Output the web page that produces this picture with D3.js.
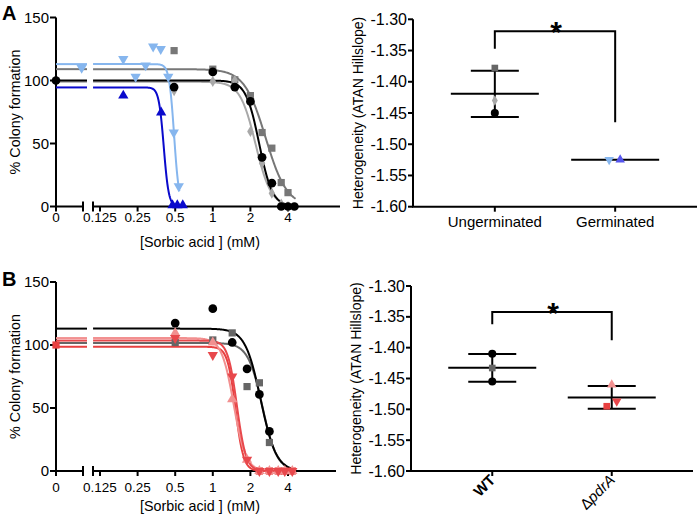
<!DOCTYPE html>
<html><head><meta charset="utf-8">
<script src="https://cdn.jsdelivr.net/npm/d3@7"></script>
<style>body{margin:0;background:#fff}svg{display:block}</style>
</head><body><svg id="c" width="700" height="516"></svg>
<script>
// ---------------- DATA ----------------
const doseTicks = [0.125, 0.25, 0.5, 1, 2, 4];
const doseTickLabels = ["0.125", "0.25", "0.5", "1", "2", "4"];
const doseYTicks = [0, 50, 100, 150];

// Panel A, dose response (% colony formation)
const aDoseUng = [0, 0.49, 1, 1.5, 2, 2.48, 2.97, 3.53, 4, 4.5];
const aUngCircle = [100, 94.8, 106.8, 94.8, 83.4, 39, 18.5, 0, 0, 0];
const aUngSquare = [null, 123.7, 109, 100.6, 88, 58.7, 46.3, 19, 11, null];
const aUngDiamond = [null, 92, 99.3, 100, 59.5, 34.4, 10.5, 2, 0, null];
const aDoseGermLight = [0.095, 0.192, 0.241, 0.29, 0.333, 0.383, 0.44, 0.487, 0.534];
const aGermLight = [110, 117, 103, 112, 127, 125, 103, 58.7, 16];
const aDoseGermDark = [0.192, 0.386, 0.476, 0.52, 0.575];
const aGermDark = [88, 74.6, 1, 1, 1];
// fitted curves (circle, square, diamond, light-blue, blue)
const aFitTop = [100, 109, 99, 113, 94.5];
const aFitIC50 = [2.35, 2.65, 2.2, 0.49, 0.405];
const aFitHill = [8.2, 5.1, 7.0, 21.8, 21.8];
const aFitEnd = [4.6, 4.6, 4.6, 0.54, 0.6];

// Panel B, dose response
const bDose = [0, 0.5, 1, 1.43, 1.88, 2.36, 2.84, 3.34, 3.77, 4.33];
const bWTCircle = [null, 117.4, 128.8, 102, 81, 60.8, 31.4, null, null, null];
const bWTSquare = [null, 102, 104, 109.6, 67, 70, 22.6, null, null, null];
const bPdrUp = [null, 109.6, 102, 57, 9, 0, 0, 0, 0, 0];
const bPdrDown = [null, 105.6, 92, 75, 9, 0, 0, 0, 0, 0];
const bPdrSquare = [100, null, null, null, null, 0, 0, 0, 0, 0];
// fitted curves (WT circle, WT square, pdrA up, pdrA down, pdrA square)
const bFitTop = [113, 101.6, 105.5, 103.5, 98.6];
const bFitIC50 = [2.42, 2.5, 1.47, 1.56, 1.52];
const bFitHill = [7.0, 7.5, 9.0, 11.9, 13.5];
const bFitEnd = [4.4, 4.4, 4.4, 4.4, 4.4];

// Heterogeneity (ATAN Hillslope)
const hetYTicks = [-1.30, -1.35, -1.40, -1.45, -1.50, -1.55, -1.60];
const hetCategoriesA = ["Ungerminated", "Germinated"];
const hetA_Ung = [-1.45, -1.378, -1.43];   // circle, square, diamond
const hetA_Germ = [-1.525, -1.525];        // light-blue down, blue up
const hetCategoriesB = ["WT", "ΔpdrA"];
const hetB_WT = [-1.41, -1.455, -1.433];   // circle, circle, square
const hetB_Pdr = [-1.46, -1.487, -1.495];  // up, down, square
const sigA = [-1.347, -1.319, -1.465];     // bracket: left end, top, right end
const sigB = [-1.362, -1.342, -1.388];

// ---------------- DRAWING ----------------
const FONT = "'Liberation Sans', Arial, Helvetica, sans-serif";
const svg = d3.select("#c").attr("font-family", FONT);
const C = {
  black: "#000", grey: "#777", lgrey: "#a8a8a8", lblue: "#86b6ee", blue: "#0a0acc",
  dgrey: "#666", pink: "#f29090", red: "#e8484c", red2: "#e84040", hetBlue: "#5555ee"
};

function marker(g, kind, x, y, color, scale) {
  scale = scale || 1;
  const t = {circle: [d3.symbolCircle, 60], square: [d3.symbolSquare, 52], diamond: [d3.symbolDiamond, 36],
    up: [d3.symbolTriangle, 46], down: [d3.symbolTriangle, 46]}[kind];
  g.append("path").attr("d", d3.symbol(t[0], t[1] * scale)())
    .attr("transform", `translate(${x},${y})${kind === "down" ? " rotate(180)" : ""}`)
    .attr("fill", color);
}

function doseChart(cfg) {
  const g = svg.append("g");
  const y = d3.scaleLinear().domain([0, 150]).range([cfg.y0, cfg.y0 - 189]);
  const xz = d3.scaleLinear().domain([0, 0.1]).range([56, 83]);
  const xl = d3.scaleLog().base(2).domain([0.125, 4]).range([100, 288]);
  const X = c => c < 0.105 ? xz(c) : xl(c);
  const y0 = cfg.y0;

  // axes
  g.append("line").attr("x1", 56).attr("x2", 56).attr("y1", y(0)).attr("y2", y(150)).attr("stroke", "#000").attr("stroke-width", 2);
  doseYTicks.forEach(v => {
    g.append("line").attr("x1", 50).attr("x2", 56).attr("y1", y(v)).attr("y2", y(v)).attr("stroke", "#000").attr("stroke-width", 2);
    g.append("text").attr("x", 49).attr("y", y(v)).attr("dy", "0.35em").attr("text-anchor", "end")
      .attr("font-size", 15).text(v);
  });
  g.append("line").attr("x1", 55).attr("x2", 83).attr("y1", y0).attr("y2", y0).attr("stroke", "#000").attr("stroke-width", 2);
  g.append("line").attr("x1", 93).attr("x2", cfg.xEnd).attr("y1", y0).attr("y2", y0).attr("stroke", "#000").attr("stroke-width", 2);
  [83, 93].forEach(bx => g.append("line").attr("x1", bx).attr("x2", bx).attr("y1", y0 - 5).attr("y2", y0 + 5)
    .attr("stroke", "#000").attr("stroke-width", 2));
  g.append("line").attr("x1", 56).attr("x2", 56).attr("y1", y0).attr("y2", y0 + 5).attr("stroke", "#000").attr("stroke-width", 2);
  g.append("text").attr("x", X(0)).attr("y", y0 + cfg.lab).attr("text-anchor", "middle").attr("font-size", 13.5).text("0");
  doseTicks.forEach((d, i) => {
    g.append("line").attr("x1", xl(d)).attr("x2", xl(d)).attr("y1", y0).attr("y2", y0 + 5).attr("stroke", "#000").attr("stroke-width", 2);
    g.append("text").attr("x", xl(d)).attr("y", y0 + cfg.lab).attr("text-anchor", "middle").attr("font-size", 13.5).text(doseTickLabels[i]);
  });
  g.append("text").attr("x", 200).attr("y", y0 + 40).attr("text-anchor", "middle").attr("font-size", 14.3).text("[Sorbic acid ] (mM)");
  g.append("text").attr("transform", `translate(20,${y(75)}) rotate(-90)`).attr("text-anchor", "middle")
    .attr("font-size", 14.3).text("% Colony formation");

  // curves
  cfg.series.forEach(s => {
    const f = c => s.top / (1 + Math.pow(c / s.ic50, s.hill));
    g.append("line").attr("x1", X(0)).attr("x2", 87).attr("y1", y(s.top)).attr("y2", y(s.top))
      .attr("stroke", s.line).attr("stroke-width", 2);
    const cs = d3.range(301).map(i => 0.11 * Math.pow(s.end / 0.11, i / 300));
    g.append("path").datum(cs).attr("fill", "none").attr("stroke", s.line).attr("stroke-width", 2)
      .attr("d", d3.line().x(c => xl(c)).y(c => y(f(c))));
  });
  // points
  cfg.series.forEach(s => {
    s.dose.forEach((d, i) => {
      const v = s.vals[i];
      if (v == null) return;
      marker(g, s.kind, X(d), y(v), s.color);
    });
  });
}

doseChart({
  y0: 206.5, lab: 15.5, xEnd: 340,
  series: [
    {dose: aDoseUng, vals: aUngSquare, kind: "square", color: C.grey, line: C.grey},
    {dose: aDoseUng, vals: aUngDiamond, kind: "diamond", color: C.lgrey, line: C.lgrey},
    {dose: aDoseGermLight, vals: aGermLight, kind: "down", color: C.lblue, line: C.lblue},
    {dose: aDoseGermDark, vals: aGermDark, kind: "up", color: C.blue, line: C.blue},
    {dose: aDoseUng, vals: aUngCircle, kind: "circle", color: C.black, line: C.black}
  ].map((s, k) => {
    const idx = [1, 2, 3, 4, 0][k];
    return Object.assign(s, {top: aFitTop[idx], ic50: aFitIC50[idx], hill: aFitHill[idx], end: aFitEnd[idx]});
  })
});

doseChart({
  y0: 471, lab: 21, xEnd: 336,
  series: [
    {dose: bDose, vals: bWTSquare, kind: "square", color: C.dgrey, line: C.dgrey},
    {dose: bDose, vals: bWTCircle, kind: "circle", color: C.black, line: C.black},
    {dose: bDose, vals: bPdrSquare, kind: "square", color: C.red2, line: C.red2},
    {dose: bDose, vals: bPdrUp, kind: "up", color: C.pink, line: C.pink},
    {dose: bDose, vals: bPdrDown, kind: "down", color: C.red, line: C.red}
  ].map((s, k) => {
    const idx = [1, 0, 4, 2, 3][k];
    return Object.assign(s, {top: bFitTop[idx], ic50: bFitIC50[idx], hill: bFitHill[idx], end: bFitEnd[idx]});
  })
});

function hetChart(cfg) {
  const g = svg.append("g");
  const y = d3.scaleLinear().domain([-1.6, -1.3]).range([cfg.yb, cfg.yt]);
  const x = d3.scalePoint().domain(cfg.cats).range([cfg.xl, cfg.xr]).padding(0.68);
  g.append("line").attr("x1", cfg.xl).attr("x2", cfg.xl).attr("y1", y(-1.6)).attr("y2", y(-1.3)).attr("stroke", "#000").attr("stroke-width", 2);
  g.append("line").attr("x1", cfg.xl - 1).attr("x2", cfg.xr).attr("y1", y(-1.6)).attr("y2", y(-1.6)).attr("stroke", "#000").attr("stroke-width", 2);
  hetYTicks.forEach(v => {
    g.append("line").attr("x1", cfg.xl - 5).attr("x2", cfg.xl).attr("y1", y(v)).attr("y2", y(v)).attr("stroke", "#000").attr("stroke-width", 2);
    g.append("text").attr("x", cfg.xl - 6).attr("y", y(v)).attr("dy", "0.35em").attr("text-anchor", "end")
      .attr("font-size", 16).text(d3.format(".2f")(v).replace("−", "-"));
  });
  cfg.cats.forEach(c => {
    g.append("line").attr("x1", x(c)).attr("x2", x(c)).attr("y1", y(-1.6)).attr("y2", y(-1.6) + 5).attr("stroke", "#000").attr("stroke-width", 2);
  });
  cfg.labels(g, x, y(-1.6));
  g.append("text").attr("transform", `translate(${cfg.xl - 50},${y(-1.45)}) rotate(-90)`).attr("text-anchor", "middle")
    .attr("font-size", 14).text("Heterogeneity (ATAN Hillslope)");

  // mean and SD
  cfg.groups.forEach((grp, gi) => {
    const cx = x(cfg.cats[gi]);
    const m = d3.mean(grp.vals), sd = d3.deviation(grp.vals);
    const ln = (x1, x2, y1, y2) => g.append("line").attr("x1", x1).attr("x2", x2).attr("y1", y1).attr("y2", y2)
      .attr("stroke", "#000").attr("stroke-width", 2);
    ln(cx - 44, cx + 44, y(m), y(m));
    if (sd > 0.002) {
      ln(cx, cx, y(m - sd), y(m + sd));
      ln(cx - 24, cx + 24, y(m - sd), y(m - sd));
      ln(cx - 24, cx + 24, y(m + sd), y(m + sd));
    }
  });
  cfg.groups.forEach((grp, gi) => {
    const cx = x(cfg.cats[gi]);
    grp.vals.forEach((v, i) => marker(g, grp.kinds[i], cx + grp.jit[i], y(v), grp.colors[i], 0.85));
  });
  // significance bracket
  const x1 = x(cfg.cats[0]), x2 = x(cfg.cats[1]);
  g.append("path").attr("fill", "none").attr("stroke", "#000").attr("stroke-width", 2)
    .attr("d", `M${x1},${y(cfg.sig[0])}V${y(cfg.sig[1])}H${x2}V${y(cfg.sig[2])}`);
  g.append("text").attr("x", (x1 + x2) / 2 + 1).attr("y", y(cfg.sig[1]) + 11).attr("text-anchor", "middle")
    .attr("font-size", 30).attr("font-weight", "bold").text("*");
}

hetChart({
  xl: 413, xr: 697, yb: 206.7, yt: 19.3, cats: hetCategoriesA, sig: sigA,
  groups: [
    {vals: hetA_Ung, kinds: ["circle", "square", "diamond"], colors: [C.black, C.dgrey, C.lgrey], jit: [0, 0, 0]},
    {vals: hetA_Germ, kinds: ["down", "up"], colors: [C.lblue, C.hetBlue], jit: [-6, 5]}
  ],
  labels: (g, x, yb) => hetCategoriesA.forEach(c => g.append("text").attr("x", x(c)).attr("y", yb + 20)
    .attr("text-anchor", "middle").attr("font-size", 15).text(c))
});

hetChart({
  xl: 411, xr: 693, yb: 471, yt: 286, cats: hetCategoriesB, sig: sigB,
  groups: [
    {vals: hetB_WT, kinds: ["circle", "circle", "square"], colors: [C.black, C.black, C.dgrey], jit: [0, 0, 0]},
    {vals: hetB_Pdr, kinds: ["up", "down", "square"], colors: [C.pink, C.red, C.red2], jit: [0, 5, -5]}
  ],
  labels: (g, x, yb) => {
    g.append("text").attr("transform", `translate(${x(hetCategoriesB[0]) + 4},${yb + 10}) rotate(-45)`)
      .attr("text-anchor", "end").attr("font-size", 15).attr("font-weight", "bold").text(hetCategoriesB[0]);
    const t = g.append("text").attr("transform", `translate(${x(hetCategoriesB[1]) + 4},${yb + 10}) rotate(-45)`)
      .attr("text-anchor", "end").attr("font-size", 15);
    t.append("tspan").text(hetCategoriesB[1].slice(0, 1));
    t.append("tspan").attr("font-style", "italic").text(hetCategoriesB[1].slice(1));
  }
});

// panel letters
svg.append("text").attr("x", 2).attr("y", 20).attr("font-size", 20).attr("font-weight", "bold").text("A");
svg.append("text").attr("x", 2).attr("y", 286).attr("font-size", 20).attr("font-weight", "bold").text("B");
</script></body></html>
